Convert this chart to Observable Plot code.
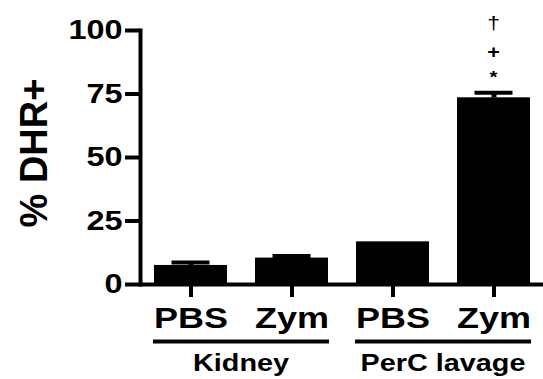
<!DOCTYPE html>
<html>
<head>
<meta charset="utf-8">
<script src="https://cdn.jsdelivr.net/npm/d3@7"></script>
<script src="https://cdn.jsdelivr.net/npm/@observablehq/plot@0.6"></script>
<style>
  html, body { margin: 0; padding: 0; background: #fff; }
  #chart { width: 543px; height: 379px; }
</style>
</head>
<body>
<div id="chart"></div>
<script>
// Percentage of DHR+ cells by tissue and treatment (mean ± SEM)
const tissues = ["Kidney", "Kidney", "PerC lavage", "PerC lavage"];
const treatments = ["PBS", "Zym", "PBS", "Zym"];
const dhrPercent = [7.5, 10.4, 16.8, 73.5];
const sem = [1.2, 0.8, 0, 2.0];
// significance symbols over PerC lavage / Zym, listed bottom to top
const significance = ["*", "+", "†"];
const yTicks = [0, 25, 50, 75, 100];
const groupNames = ["Kidney", "PerC lavage"];

const rows = tissues.map((t, i) => ({
  key: `${t} ${treatments[i]}`,
  tissue: t,
  treatment: treatments[i],
  value: dhrPercent[i],
  err: sem[i]
}));
const keys = rows.map(d => d.key);
const labelOf = Object.fromEntries(rows.map(d => [d.key, d.treatment]));
const withError = rows.filter(d => d.err > 0);

const font = "'Liberation Sans', Arial, Helvetica, sans-serif";

// group brackets, group names, y title and significance symbols
function annotations(index, {x, y}) {
  const g = d3.create("svg:g").attr("fill", "#000").attr("font-family", font).attr("font-weight", "bold");
  const bw = x.bandwidth();
  const y0 = y(0);
  for (const name of groupNames) {
    const members = rows.filter(d => d.tissue === name).map(d => d.key);
    const x1 = x(members[0]) - 1;
    const x2 = x(members[members.length - 1]) + bw + 1;
    g.append("line")
      .attr("x1", x1).attr("x2", x2)
      .attr("y1", y0 + 57.5).attr("y2", y0 + 57.5)
      .attr("stroke", "#000").attr("stroke-width", 4);
    g.append("text")
      .attr("x", (x1 + x2) / 2).attr("y", y0 + 87)
      .attr("text-anchor", "middle").attr("font-size", 24)
      .text(name);
  }
  // y-axis title
  g.append("text")
    .attr("class", "no-stretch")
    .attr("transform", `translate(46.5,${(y(0) + y(100)) / 2 - 4}) rotate(-90)`)
    .attr("text-anchor", "middle").attr("font-size", 38)
    .text("% DHR+");
  // symbols stacked above the tallest bar
  const last = rows[rows.length - 1];
  const cx = x(last.key) + bw / 2;
  const capY = y(last.value + last.err);
  const offsets = [9, 34, 63];
  const sizes = [17, 18, 19];
  significance.forEach((s, i) => {
    g.append("text")
      .attr("x", cx).attr("y", capY - offsets[i])
      .attr("text-anchor", "middle").attr("font-size", sizes[i])
      .attr("font-weight", s === "†" ? "normal" : "bold")
      .text(s);
  });
  return g.node();
}

const chart = Plot.plot({
  width: 543,
  height: 379,
  marginLeft: 140,
  marginRight: 0,
  marginTop: 30,
  marginBottom: 95,
  style: {fontFamily: font, fontWeight: "bold", color: "#000", background: "#fff"},
  x: {domain: keys, paddingInner: 0.28, paddingOuter: 0.125, align: 0.5},
  y: {domain: [0, 100]},
  marks: [
    Plot.barY(rows, {x: "key", y: "value", fill: "#000"}),
    Plot.ruleX(withError, {x: "key", y1: "value", y2: d => d.value + d.err, stroke: "#000", strokeWidth: 5}),
    Plot.tickY(withError, {x: "key", y: d => d.value + d.err, stroke: "#000", strokeWidth: 4, inset: 17.5}),
    Plot.axisY({ticks: yTicks, tickSize: 15, tickPadding: 3, strokeWidth: 4, fontSize: 27, label: null}),
    Plot.axisX({tickSize: 13, tickPadding: 9, strokeWidth: 4, fontSize: 30, tickFormat: k => labelOf[k], label: null}),
    Plot.ruleY([0], {stroke: "#000", strokeWidth: 4}),
    Plot.frame({anchor: "left", stroke: "#000", strokeWidth: 4}),
    annotations
  ]
});

document.getElementById("chart").appendChild(chart);

// widen the lettering horizontally
d3.select(chart).selectAll("text").each(function () {
  if (this.classList.contains("no-stretch")) return;
  const w = this.getComputedTextLength();
  this.setAttribute("textLength", w * 1.2);
  this.setAttribute("lengthAdjust", "spacingAndGlyphs");
});
</script>
</body>
</html>
